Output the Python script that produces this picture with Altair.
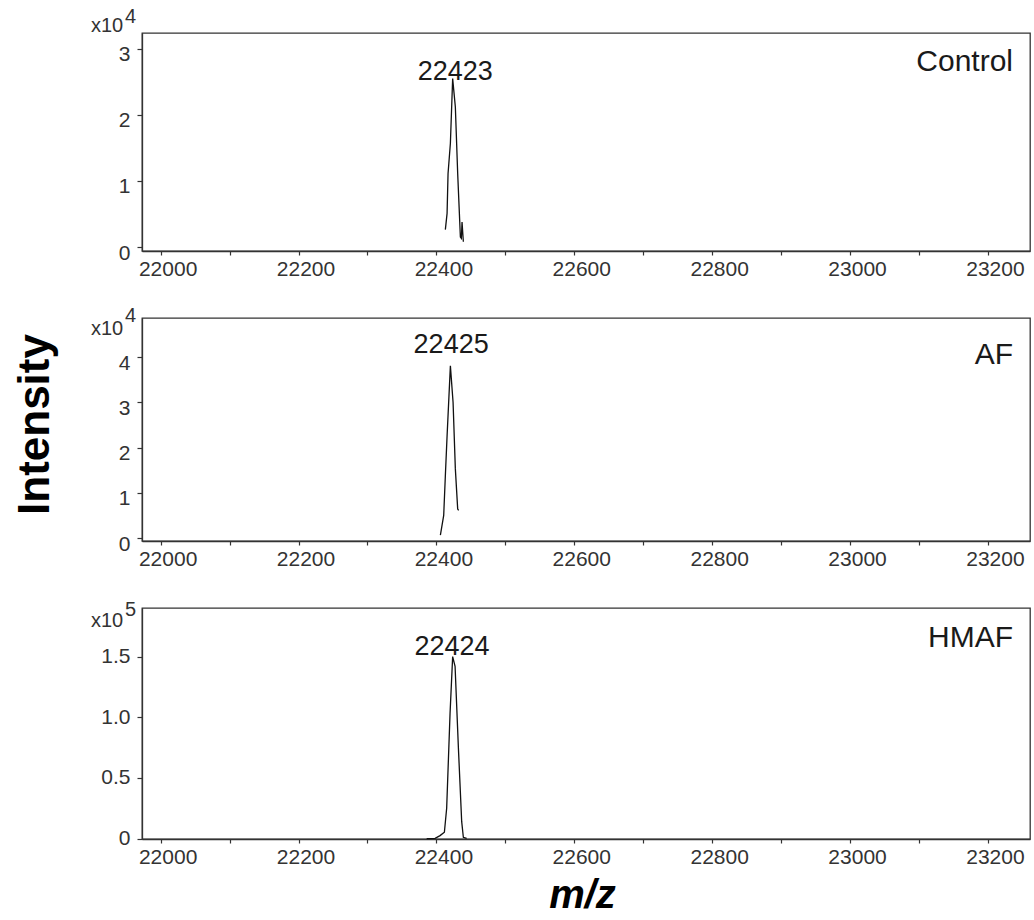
import altair as alt
import pandas as pd

FONT = "Liberation Sans"

# ---------------- data ----------------
x_tick_values = [22000, 22100, 22200, 22300, 22400, 22500, 22600,
                 22700, 22800, 22900, 23000, 23100, 23200]
x_domain = [21973, 23261]

panel_names = ["Control", "AF", "HMAF"]
peak_labels = ["22423", "22425", "22424"]
exponents = ["4", "4", "5"]

ctrl_mz = [22413.0, 22415.5, 22416.9, 22420.3, 22423.6, 22427.5,
           22430.9, 22434.8, 22436.2, 22437.2, 22439.1]
ctrl_int = [2630, 5100, 11100, 15700, 25500, 21200, 11100, 1500, 1300, 3800, 800]

af_mz = [22405.8, 22410.6, 22413.0, 22415.5, 22420.3, 22424.2,
         22427.5, 22430.9, 22432.3]
af_int = [660, 5000, 13800, 22600, 38100, 30000, 15300, 6400, 6100]

hmaf_mz = [22385.9, 22398.1, 22405.3, 22411.6, 22414.9, 22419.8,
           22423.6, 22427.1, 22431.9, 22436.7, 22439.1, 22443.9]
hmaf_int = [0, 300, 2500, 5300, 25000, 103000, 150000, 142000,
            75000, 14000, 1100, 300]

y_tick_values = [[0, 10000, 20000, 30000],
                 [0, 10000, 20000, 30000, 40000],
                 [0, 50000, 100000, 150000]]
y_domains = [[-600, 32400], [-660, 48700], [-280, 190000]]

peak_label_mz = [22427.5, 22421.4, 22422.7]
peak_label_int = [25450, 41100, 152300]

series_mz = [ctrl_mz, af_mz, hmaf_mz]
series_int = [ctrl_int, af_int, hmaf_int]

# ---------------- styling per panel ----------------
heights = [218, 223, 231]
y_label_expr = ["format(datum.value / 10000, 'd')",
                "format(datum.value / 10000, 'd')",
                "datum.value == 0 ? '0' : format(datum.value / 100000, '.1f')"]
y_label_offset = [6, 6, 0]
x10_dy = [-1, 17, 19]      # baseline of "x10" below panel top
exp_dy = [-10, 4, 8]       # baseline of exponent below panel top
exp_dx = [-17, -17, -17]
name_dy = [38, 46, 39]

TEXT = "#1a1a1a"


def panel(i):
    df = pd.DataFrame({"mz": series_mz[i], "intensity": series_int[i]})
    xs = alt.Scale(domain=x_domain, nice=False, zero=False)
    ys = alt.Scale(domain=y_domains[i], nice=False, zero=False)

    x_axis_kw = dict(values=x_tick_values,
                     labelExpr="datum.value % 200 == 0 ? format(datum.value, 'd') : ''",
                     labelOffset=7, tickSize=4, labelPadding=3, grid=False)
    if i == 2:
        x_axis = alt.Axis(title="m/z", titleFontSize=40, titleFontWeight="bold",
                          titleFontStyle="italic", titleFont=FONT, titleColor="#000",
                          titleX=440, titleY=68, titleBaseline="alphabetic",
                          titleAlign="center", **x_axis_kw)
    else:
        x_axis = alt.Axis(title=None, **x_axis_kw)

    y_axis_kw = dict(values=y_tick_values[i], labelExpr=y_label_expr[i],
                     labelOffset=y_label_offset[i], tickSize=5, labelPadding=7,
                     grid=False)
    if i == 1:
        y_axis = alt.Axis(title="Intensity", titleFontSize=44, titleFontWeight="bold",
                          titleFont=FONT, titleColor="#000", titleAngle=270,
                          titleX=-94, titleY=106, titleAlign="center",
                          titleBaseline="alphabetic", **y_axis_kw)
    else:
        y_axis = alt.Axis(title=None, **y_axis_kw)

    line = alt.Chart(df).mark_line(color="#111", strokeWidth=1.3).encode(
        x=alt.X("mz:Q", scale=xs, axis=x_axis),
        y=alt.Y("intensity:Q", scale=ys, axis=y_axis),
    )

    ann = pd.DataFrame({
        "mz": [peak_label_mz[i]], "intensity": [peak_label_int[i]],
        "peak": [peak_labels[i]], "name": [panel_names[i]],
        "exp": [exponents[i]], "x10": ["x10"],
        "xmin": [x_domain[0]], "xmax": [x_domain[1]], "ymax": [y_domains[i][1]],
    })
    base = alt.Chart(ann)
    peak_txt = base.mark_text(font=FONT, fontSize=27, color=TEXT, align="center",
                              baseline="alphabetic", dy=1).encode(
        x=alt.X("mz:Q", scale=xs), y=alt.Y("intensity:Q", scale=ys), text="peak:N")
    name_txt = base.mark_text(font=FONT, fontSize=30, color=TEXT, align="right",
                              baseline="alphabetic", dx=-17, dy=name_dy[i]).encode(
        x=alt.X("xmax:Q", scale=xs), y=alt.Y("ymax:Q", scale=ys), text="name:N")
    x10_txt = base.mark_text(font=FONT, fontSize=20, color="#333", align="left",
                             baseline="alphabetic", dx=-51, dy=x10_dy[i]).encode(
        x=alt.X("xmin:Q", scale=xs), y=alt.Y("ymax:Q", scale=ys), text="x10:N")
    exp_txt = base.mark_text(font=FONT, fontSize=20, color="#333", align="left",
                             baseline="alphabetic", dx=exp_dx[i], dy=exp_dy[i]).encode(
        x=alt.X("xmin:Q", scale=xs), y=alt.Y("ymax:Q", scale=ys), text="exp:N")

    return alt.layer(line, peak_txt, name_txt, x10_txt, exp_txt).properties(
        width=888, height=heights[i])


chart = alt.vconcat(panel(0), panel(1), panel(2), spacing=67, bounds="flush").properties(
    padding={"left": 12, "top": 6, "right": 2, "bottom": 5},
    background="white",
).configure_view(
    stroke="#333", strokeWidth=1.3
).configure_axis(
    labelFont=FONT, labelFontSize=21, labelColor="#333",
    tickColor="#333", domainColor="#333", domainWidth=1.3, tickWidth=1.2,
)

chart.save("out.html", embed_options={"renderer": "svg", "actions": False})
